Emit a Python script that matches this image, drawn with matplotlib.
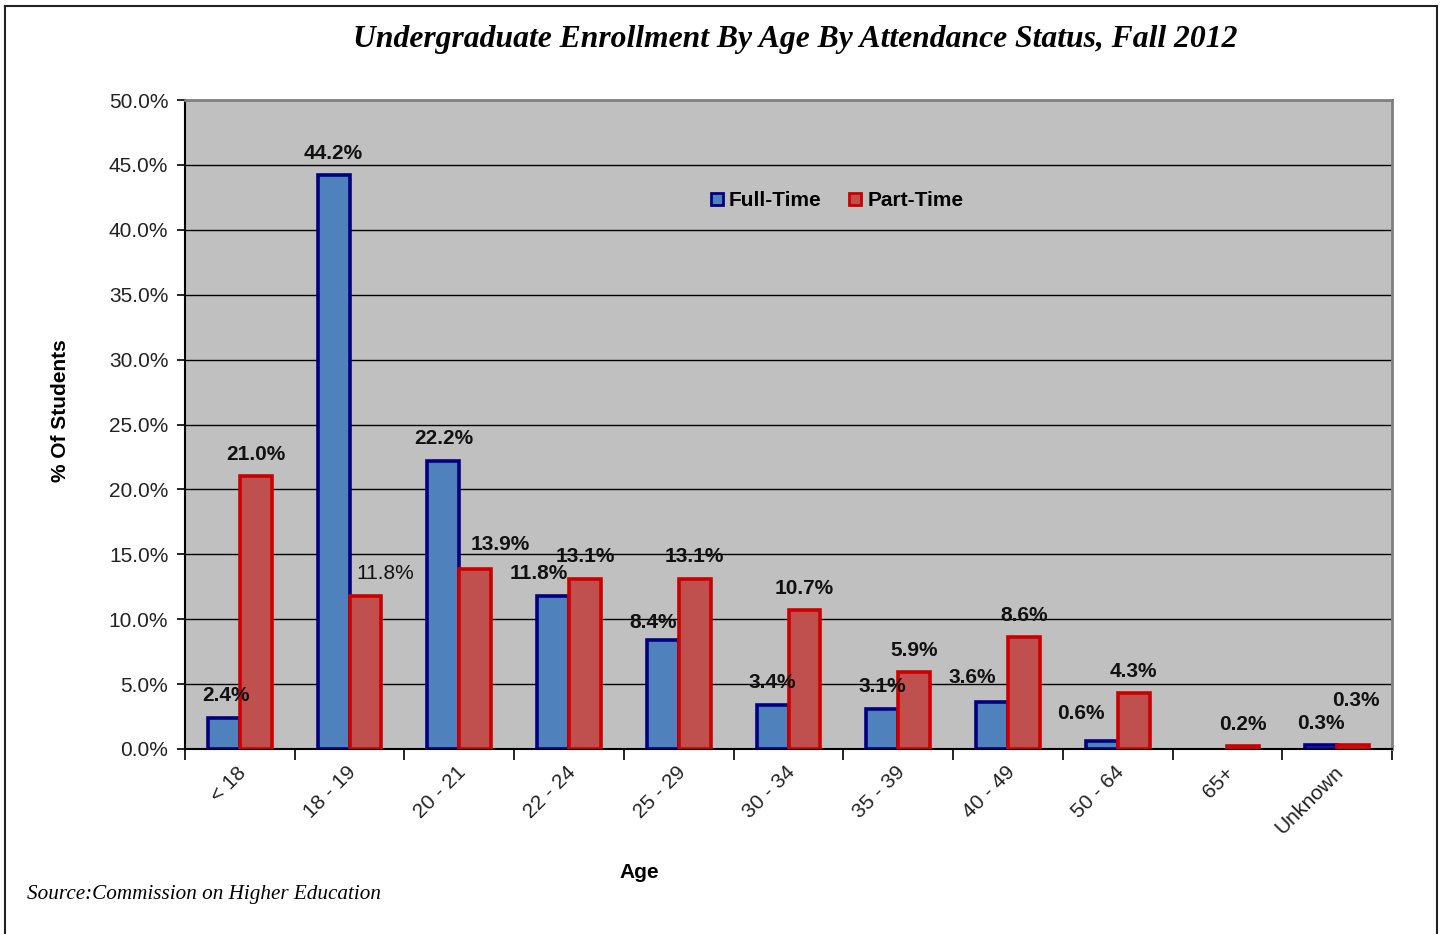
import matplotlib
matplotlib.use("Agg")
import matplotlib.pyplot as plt
from matplotlib.lines import Line2D
from matplotlib.transforms import ScaledTranslation
import numpy as np

# Enrollment shares (% of students) by age group
age_groups = ["< 18", "18 - 19", "20 - 21", "22 - 24", "25 - 29", "30 - 34",
              "35 - 39", "40 - 49", "50 - 64", "65+", "Unknown"]
full_time = [2.4, 44.2, 22.2, 11.8, 8.4, 3.4, 3.1, 3.6, 0.6, 0.0, 0.3]
part_time = [21.0, 11.8, 13.9, 13.1, 13.1, 10.7, 5.9, 8.6, 4.3, 0.2, 0.3]
y_ticks = [0, 5, 10, 15, 20, 25, 30, 35, 40, 45, 50]

# Label nudges in pixels (dx, dy) so crowded labels don't collide
ft_nudge = [(2, 0), (0, 0), (0, 0), (-14, 0), (-10, -5), (0, 0), (0, 0),
            (-20, 3), (-21, 6), (0, 0), (0, 0)]
pt_nudge = [(0, 0), (20, 0), (25, 2), (0, 0), (0, 0), (0, 0), (0, 0),
            (0, 0), (0, 0), (0, 0), (3, 23)]

SANS = "Liberation Sans"
SERIF = "Liberation Serif"

fig = plt.figure(figsize=(14.4, 9.34), dpi=100)
ax = fig.add_axes([185 / 1440, 1 - 749 / 934, (1392 - 185) / 1440, (749 - 100) / 934])
ax.set_facecolor("#C0C0C0")

x = np.arange(len(age_groups))
w = 0.29
ft_bars = ax.bar(x - w / 2, full_time, w, color="#4F81BD", edgecolor="#000080",
                 linewidth=2.6, zorder=3, label="Full-Time")
pt_bars = ax.bar(x + w / 2, part_time, w, color="#C0504D", edgecolor="#CC0000",
                 linewidth=2.6, zorder=3, label="Part-Time")

for bars, vals, nudges in [(ft_bars, full_time, ft_nudge), (pt_bars, part_time, pt_nudge)]:
    for i, (b, v, (dx, dy)) in enumerate(zip(bars, vals, nudges)):
        if v == 0:
            b.set_linewidth(0)
            continue
        weight = "normal" if (bars is pt_bars and i == 1) else "bold"
        ax.annotate(f"{v:.1f}%", (b.get_x() + b.get_width() / 2, v),
                    xytext=(dx, 22 + dy), textcoords="offset pixels",
                    ha="center", va="center", fontsize=15, fontweight=weight,
                    fontfamily=SANS, color="#111111", zorder=5)

ax.set_xlim(-0.5, len(age_groups) - 0.5)
ax.set_ylim(0, 50)
ax.set_yticks(y_ticks)
ax.set_yticklabels([f"{t:.1f}%" for t in y_ticks], fontsize=15, fontfamily=SANS,
                   color="#222222")
ax.yaxis.grid(True, color="black", linewidth=1.0, zorder=1)
ax.set_axisbelow(True)
ax.tick_params(axis="y", direction="out", length=6, width=1.2, pad=6)

ax.set_xticks(x)
ax.set_xticklabels(age_groups, rotation=45, ha="right", va="top",
                   rotation_mode="anchor", fontsize=15, fontfamily=SANS, color="#222222")
ax.tick_params(axis="x", which="major", length=0, pad=10)
ax.set_xticks(np.arange(-0.5, len(age_groups), 1.0), minor=True)
ax.tick_params(axis="x", which="minor", direction="out", length=8, width=1.2)
for lbl in ax.get_xticklabels():
    lbl.set_transform(lbl.get_transform() + ScaledTranslation(-0.03, 0, fig.dpi_scale_trans))

for side in ("left", "bottom"):
    ax.spines[side].set_color("black")
    ax.spines[side].set_linewidth(1.5)
for side in ("top", "right"):
    ax.spines[side].set_color("#808080")
    ax.spines[side].set_linewidth(2)

fig.text(60 / 1440, 1 - 411 / 934, "% Of Students", fontsize=15, fontweight="bold",
         fontfamily=SANS, rotation=90, ha="center", va="center")
fig.text(639 / 1440, 1 - 873 / 934, "Age", fontsize=15, fontweight="bold",
         fontfamily=SANS, ha="center", va="center")

handles = [Line2D([], [], marker="s", linestyle="none", markersize=8,
                  markerfacecolor="#4F81BD", markeredgecolor="#000080", markeredgewidth=2),
           Line2D([], [], marker="s", linestyle="none", markersize=8,
                  markerfacecolor="#C0504D", markeredgecolor="#CC0000", markeredgewidth=2)]
fig.legend(handles, ["Full-Time", "Part-Time"], loc="center",
           bbox_to_anchor=(836 / 1440, 1 - 201 / 934), ncol=2, frameon=False,
           handlelength=0.8, handletextpad=0.2, columnspacing=1.2,
           prop={"family": SANS, "weight": "bold", "size": 15})

fig.text(795 / 1440, 1 - 39 / 934,
         "Undergraduate Enrollment By Age By Attendance Status, Fall 2012",
         fontsize=22.8, fontweight="bold", fontstyle="italic", fontfamily=SERIF,
         ha="center", va="center")
fig.text(27 / 1440, 1 - 895 / 934, "Source:Commission on Higher Education",
         fontsize=15.2, fontstyle="italic", fontfamily=SERIF, ha="left", va="center")

# Outer frame around the chart
frame_kw = dict(color="#222222", linewidth=1.5, transform=fig.transFigure)
fig.add_artist(Line2D([5 / 1440, 5 / 1440], [0, 1 - 6 / 934], **frame_kw))
fig.add_artist(Line2D([5 / 1440, 1437 / 1440], [1 - 6 / 934, 1 - 6 / 934], **frame_kw))
fig.add_artist(Line2D([1437 / 1440, 1437 / 1440], [0, 1 - 6 / 934], **frame_kw))

fig.savefig("out.png", dpi=100, facecolor="white")
